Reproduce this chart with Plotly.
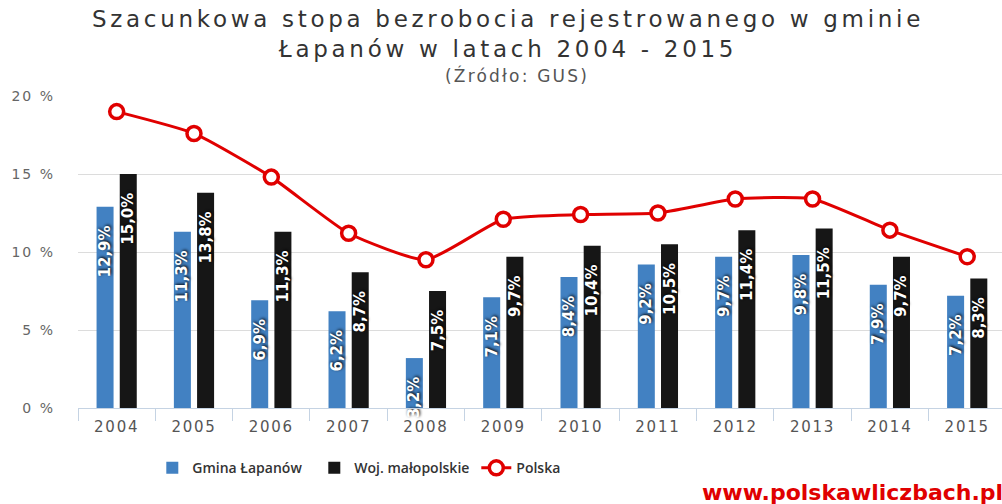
import plotly.graph_objects as go

years = ["2004", "2005", "2006", "2007", "2008", "2009", "2010", "2011", "2012", "2013", "2014", "2015"]
gmina = [12.9, 11.3, 6.9, 6.2, 3.2, 7.1, 8.4, 9.2, 9.7, 9.8, 7.9, 7.2]
woj = [15.0, 13.8, 11.3, 8.7, 7.5, 9.7, 10.4, 10.5, 11.4, 11.5, 9.7, 8.3]
polska = [19.0, 17.6, 14.8, 11.2, 9.5, 12.1, 12.4, 12.5, 13.4, 13.4, 11.4, 9.7]
yticks = [0, 5, 10, 15, 20]


def spaced(txt, px):
    return f'<span style="letter-spacing:{px}px">{txt}</span>'


def fmt(v):
    # trailing no-break spaces keep the label a little below the bar top
    return f"{v:.1f}".replace(".", ",") + "%\u00a0\u00a0\u00a0"


label_font = dict(family="DejaVu Sans", size=15, color="white", weight="bold",
                  shadow="1px 1px 3px #000")

fig = go.Figure()
fig.add_trace(go.Bar(
    x=years, y=gmina, name="Gmina Łapanów",
    marker=dict(color="#4281c2", line=dict(width=0)),
    width=0.22, offset=-0.26,
    text=[fmt(v) for v in gmina], textposition="inside", insidetextanchor="end",
    textangle=-90, constraintext="none", textfont=label_font, cliponaxis=False,
))
fig.add_trace(go.Bar(
    x=years, y=woj, name="Woj. małopolskie",
    marker=dict(color="#161616", line=dict(width=0)),
    width=0.22, offset=0.04,
    text=[fmt(v) for v in woj], textposition="inside", insidetextanchor="end",
    textangle=-90, constraintext="none", textfont=label_font, cliponaxis=False,
))
fig.add_trace(go.Scatter(
    x=years, y=polska, name="Polska", mode="lines+markers",
    line=dict(color="#e00000", width=3, shape="spline", smoothing=0.5),
    marker=dict(symbol="circle", size=14, color="white",
                line=dict(color="#e00000", width=3.5)),
    cliponaxis=False,
))

fig.update_layout(
    width=1002, height=504,
    margin=dict(l=78, r=0, t=96, b=96, autoexpand=False),
    paper_bgcolor="white", plot_bgcolor="white",
    barmode="overlay",
    showlegend=True,
    legend=dict(orientation="h", xref="container", x=0.152, xanchor="left",
                yref="container", y=0.071, yanchor="middle",
                font=dict(family="Open Sans", size=14, color="#333333", weight=600),
                entrywidth=117, entrywidthmode="pixels", traceorder="normal"),
    font=dict(family="DejaVu Sans"),
)
fig.update_xaxes(
    type="category", range=[-0.5, 11.45],
    tickvals=years, ticktext=[spaced(y, 1.75) for y in years],
    showline=True, linecolor="#c5d3e3", linewidth=1,
    ticks="outside", tickson="boundaries", ticklen=12, tickcolor="#c5d3e3",
    tickfont=dict(family="DejaVu Sans", size=15, color="#555555"),
    ticklabelstandoff=5,
    showgrid=False, automargin=False,
)
fig.update_yaxes(
    range=[0, 20], tickvals=yticks, ticktext=[spaced(f"{v} %", 2) for v in yticks],
    showgrid=True, gridcolor="#dcdcdc", gridwidth=1, zeroline=False,
    tickfont=dict(family="DejaVu Sans", size=14, color="#666666"),
    ticklabelstandoff=22, automargin=False,
)

title_text = ("Szacunkowa stopa bezrobocia rejestrowanego w gminie<br>"
              "Łapanów w latach 2004 - 2015")
fig.add_annotation(text=spaced(title_text, 3.7), xref="paper", yref="paper",
                   x=(508 - 78) / 924, y=(408 - 34) / 312,
                   xanchor="center", yanchor="middle", showarrow=False,
                   font=dict(family="DejaVu Sans", size=23, color="#333333"))
fig.add_annotation(text=spaced("(Źródło: GUS)", 2.2), xref="paper", yref="paper",
                   x=(517 - 78) / 924, y=(408 - 75) / 312,
                   xanchor="center", yanchor="middle", showarrow=False,
                   font=dict(family="DejaVu Sans", size=17, color="#555555"))
fig.add_annotation(text="www.polskawliczbach.pl", xref="paper", yref="paper",
                   x=(1005 - 78) / 924, y=(408 - 492) / 312,
                   xanchor="right", yanchor="middle", showarrow=False,
                   font=dict(family="DejaVu Sans", size=22, color="#e00000", weight="bold"))

fig.write_html("out.html", config={"displayModeBar": False},
               post_script="document.body.style.margin='0px';")
